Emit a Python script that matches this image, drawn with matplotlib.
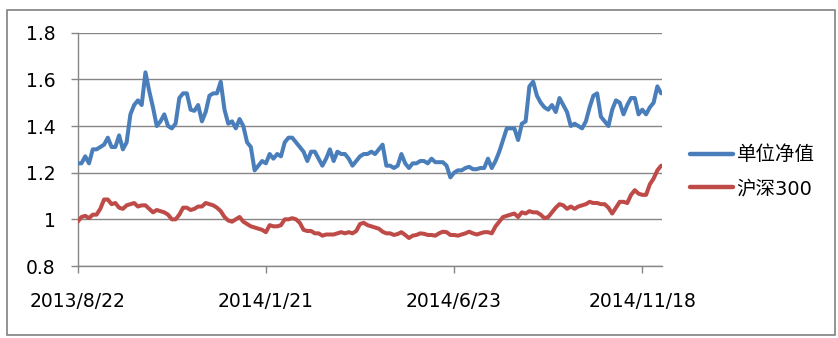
import matplotlib
matplotlib.use("Agg")
import matplotlib.pyplot as plt
from matplotlib.patches import Rectangle

plt.rcParams['font.family'] = ['DejaVu Sans', 'Noto Sans CJK SC']

# trading-day index of each sample (every 2nd trading day)
day_index = list(range(0, 312, 2))

nav = [  # 单位净值
    1.24, 1.24, 1.27, 1.24, 1.30, 1.30, 1.31, 1.32, 1.35, 1.31,
    1.31, 1.36, 1.30, 1.33, 1.45, 1.49, 1.51, 1.49, 1.63, 1.55,
    1.48, 1.40, 1.42, 1.45, 1.40, 1.39, 1.41, 1.52,
    1.54, 1.54, 1.47, 1.465, 1.49, 1.42, 1.46, 1.53, 1.54, 1.54,
    1.59, 1.47, 1.41, 1.42, 1.39, 1.43, 1.40, 1.33, 1.31, 1.21,
    1.23, 1.25, 1.24, 1.28, 1.26, 1.28,
    1.27, 1.33, 1.35, 1.35, 1.33, 1.31, 1.29, 1.25, 1.29, 1.29,
    1.26, 1.23, 1.26, 1.30, 1.25, 1.29, 1.28, 1.28, 1.26, 1.23,
    1.25, 1.27, 1.28, 1.28, 1.29, 1.28, 1.30,
    1.32, 1.23, 1.23, 1.22, 1.23, 1.28, 1.24, 1.22, 1.24, 1.24,
    1.25, 1.25, 1.24, 1.26, 1.245, 1.245, 1.245, 1.23, 1.18, 1.20,
    1.21, 1.21, 1.22, 1.225, 1.215, 1.215,
    1.22, 1.22, 1.26, 1.22, 1.25, 1.29, 1.34, 1.39, 1.39, 1.39,
    1.34, 1.41, 1.42, 1.57, 1.59, 1.53, 1.50, 1.48, 1.47, 1.49,
    1.46, 1.52, 1.49, 1.46, 1.40, 1.41, 1.40,
    1.39, 1.42, 1.48, 1.53, 1.54, 1.44, 1.42, 1.40, 1.47, 1.51,
    1.50, 1.45, 1.49, 1.52, 1.52, 1.45, 1.47, 1.45, 1.48, 1.50,
    1.57, 1.54,
]

hs300 = [  # 沪深300
    0.99, 1.01, 1.015, 1.005, 1.02, 1.02, 1.045, 1.085, 1.085, 1.065,
    1.07, 1.05, 1.045, 1.06, 1.065, 1.07, 1.055, 1.06, 1.06, 1.045,
    1.03, 1.04, 1.035, 1.03, 1.02, 1.00, 1.00, 1.02,
    1.05, 1.05, 1.04, 1.045, 1.055, 1.055, 1.07, 1.065, 1.06, 1.05,
    1.035, 1.01, 0.995, 0.99, 1.00, 1.01, 0.99, 0.98, 0.97, 0.965,
    0.96, 0.955, 0.945, 0.975, 0.97, 0.97,
    0.975, 1.00, 1.00, 1.005, 1.00, 0.985, 0.955, 0.95, 0.95, 0.94,
    0.94, 0.93, 0.935, 0.935, 0.935, 0.94, 0.945, 0.94, 0.945, 0.94,
    0.95, 0.98, 0.985, 0.975, 0.97, 0.965, 0.96,
    0.947, 0.94, 0.94, 0.933, 0.937, 0.945, 0.933, 0.92, 0.93, 0.933,
    0.94, 0.938, 0.933, 0.933, 0.93, 0.94, 0.947, 0.945, 0.933, 0.933,
    0.93, 0.935, 0.94, 0.947, 0.94, 0.935,
    0.94, 0.945, 0.945, 0.94, 0.97, 0.99, 1.01, 1.015, 1.02, 1.025,
    1.01, 1.03, 1.025, 1.035, 1.03, 1.03, 1.02, 1.005, 1.01, 1.03,
    1.05, 1.065, 1.06, 1.045, 1.055, 1.045, 1.055,
    1.06, 1.065, 1.075, 1.07, 1.07, 1.065, 1.065, 1.05, 1.025, 1.05,
    1.075, 1.075, 1.07, 1.105, 1.125, 1.11, 1.105, 1.105, 1.15, 1.175,
    1.21, 1.23,
]

tick_pos = [0, 100, 200, 300]
tick_labels = ['2013/8/22', '2014/1/21', '2014/6/23', '2014/11/18']
y_ticks = [0.8, 1.0, 1.2, 1.4, 1.6, 1.8]
y_tick_labels = ['0.8', '1', '1.2', '1.4', '1.6', '1.8']
series_names = ['单位净值', '沪深300']

W, H = 838, 338
fig = plt.figure(figsize=(W / 100, H / 100), dpi=100)
ax = fig.add_axes([77.7 / W, 1 - 266 / H, (661.7 - 77.7) / W, (266 - 32.7) / H])

grid_c = '#868686'
ax.plot(day_index, nav, color='#4A7EBB', lw=2.9, solid_joinstyle='round',
        solid_capstyle='round', label=series_names[0], zorder=3)
ax.plot(day_index, hs300, color='#BE4B48', lw=2.9, solid_joinstyle='round',
        solid_capstyle='round', label=series_names[1], zorder=3)

ax.set_xlim(0, 310.3)
ax.set_ylim(0.8, 1.8)
ax.set_yticks(y_ticks)
ax.set_yticklabels(y_tick_labels)
ax.set_xticks(tick_pos)
ax.set_xticklabels(tick_labels)
ax.yaxis.grid(True, color=grid_c, lw=1.0)
ax.set_axisbelow(True)
for s in ['top', 'right']:
    ax.spines[s].set_visible(False)
for s in ['left', 'bottom']:
    ax.spines[s].set_color(grid_c)
    ax.spines[s].set_linewidth(1.0)
ax.tick_params(axis='y', length=5, color=grid_c, width=1.0, pad=11, labelsize=13.5)
ax.tick_params(axis='x', length=5, color=grid_c, width=1.0, pad=14, labelsize=13.5)

leg = ax.legend(loc='center left', bbox_to_anchor=(690 / W, 1 - 171.7 / H),
                bbox_transform=fig.transFigure, frameon=False, fontsize=14,
                handlelength=2.2, handletextpad=0.2, labelspacing=0.75,
                borderpad=0, borderaxespad=0)
for l in leg.get_lines():
    l.set_linewidth(3.2)

fig.patches.append(Rectangle((6.5 / W, 1 - 334.5 / H), 828 / W, 325 / H,
                             transform=fig.transFigure, fill=False,
                             edgecolor='#808080', lw=1.2))

fig.savefig('out.png', dpi=100)
